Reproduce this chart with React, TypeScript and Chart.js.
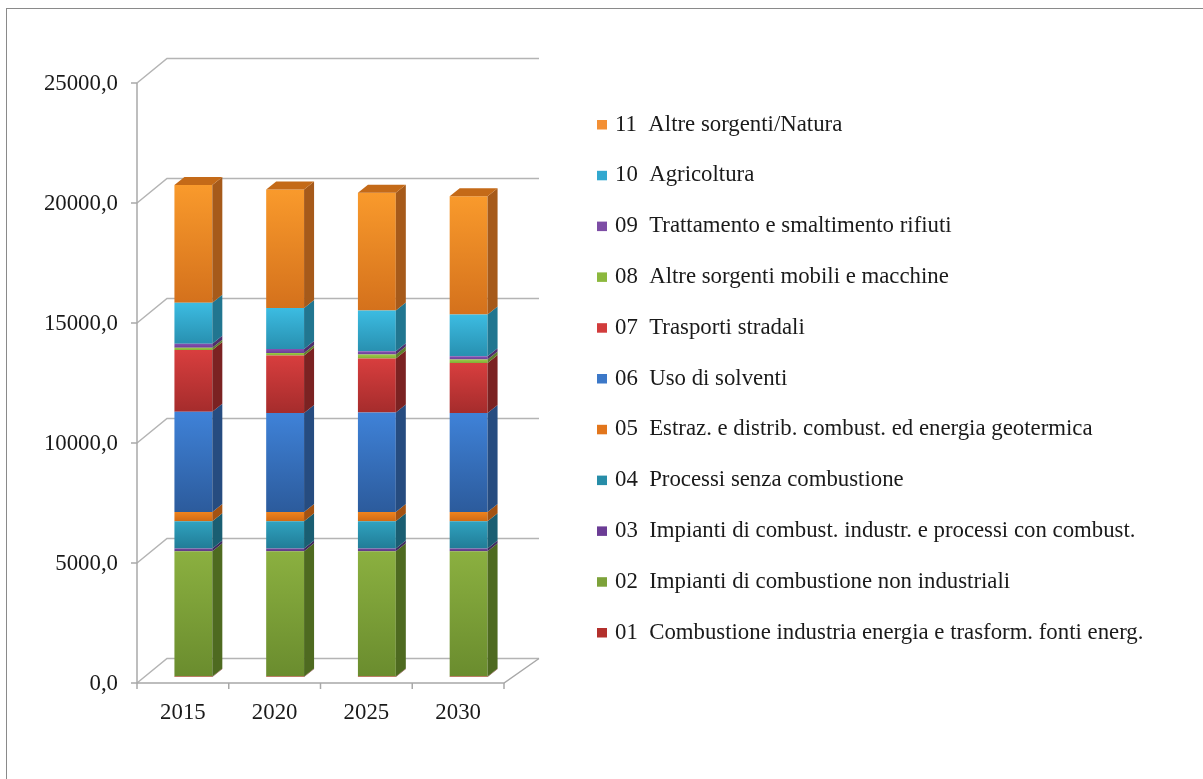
import React, { useEffect, useRef } from "react";
import { Chart, registerables } from "chart.js";

Chart.register(...registerables);

// ---- data ----
const years = ["2015", "2020", "2025", "2030"];
const s01 = [20, 20, 20, 20];
const s02 = [5220, 5220, 5220, 5220];
const s03 = [110, 110, 110, 110];
const s04 = [1140, 1140, 1140, 1140];
const s05 = [390, 390, 390, 390];
const s06 = [4170, 4125, 4140, 4125];
const s07 = [2570, 2390, 2250, 2080];
const s08 = [100, 110, 165, 140];
const s09 = [165, 165, 140, 140];
const s10 = [1710, 1710, 1700, 1740];
const s11 = [4900, 4930, 4900, 4930];
const yTicks = [0, 5000, 10000, 15000, 20000, 25000];
const seriesLabels = [
  "01  Combustione industria energia e trasform. fonti energ.",
  "02  Impianti di combustione non industriali",
  "03  Impianti di combust. industr. e processi con combust.",
  "04  Processi senza combustione",
  "05  Estraz. e distrib. combust. ed energia geotermica",
  "06  Uso di solventi",
  "07  Trasporti stradali",
  "08  Altre sorgenti mobili e macchine",
  "09  Trattamento e smaltimento rifiuti",
  "10  Agricoltura",
  "11  Altre sorgenti/Natura",
];
const seriesData = [s01, s02, s03, s04, s05, s06, s07, s08, s09, s10, s11];

// ---- styles ----
const frontTop = ["#C8383A", "#8BB040", "#74489E", "#2FA2C0", "#F0841E", "#3F82D8", "#D83E3E", "#9CCB48", "#8652B2", "#3CBCE2", "#F99A2C"];
const frontBottom = ["#A02A2A", "#6A8C2E", "#5A3882", "#217C96", "#D06A14", "#2C5B9C", "#A52C2C", "#82AE36", "#6C3E96", "#2890B0", "#D4711C"];
const sideColors = ["#7A1E1E", "#4E6A20", "#3F2A5E", "#1A5E72", "#A35212", "#264C80", "#7B2222", "#5E7E2A", "#4E2E6C", "#217690", "#A65A1A"];
const topColor = "#C46A18";
const legendColors = ["#B3302C", "#7DA23A", "#6B3C95", "#278DA8", "#E2761C", "#3C78C8", "#D23C3C", "#8CB83E", "#7D4DA5", "#32A8CF", "#F39035"];
const FONT = "'Liberation Serif', 'Times New Roman', serif";
const FONT_SIZE = 22.8;

// 3D offsets relative to the bar plane
const FX = -10.5, FY = 6; // front plane
const BX = 19.5, BY = -18.5; // back wall
const DX = 10, DY = -8; // bar depth

const plugin3d = {
  id: "pseudo3d",
  beforeDatasetsDraw(chart: any) {
    const { ctx, chartArea } = chart;
    const { left, right } = chartArea;
    const ys = chart.scales.y;
    const xs = chart.scales.x;
    ctx.save();
    ctx.strokeStyle = "#b4b4b4";
    ctx.lineWidth = 1.5;
    yTicks.forEach((v) => {
      const py = ys.getPixelForValue(v);
      ctx.beginPath();
      ctx.moveTo(left + FX, py + FY);
      ctx.lineTo(left + BX, py + BY);
      ctx.lineTo(right + BX + 5, py + BY);
      ctx.stroke();
    });
    const y0 = ys.getPixelForValue(0);
    const yTop = ys.getPixelForValue(yTicks[yTicks.length - 1]);
    ctx.strokeStyle = "#a8a8a8";
    ctx.beginPath();
    ctx.moveTo(left + FX, y0 + FY);
    ctx.lineTo(right + FX, y0 + FY);
    ctx.lineTo(right + BX + 5, y0 + BY);
    ctx.stroke();
    ctx.beginPath();
    ctx.moveTo(left + FX, yTop + FY);
    ctx.lineTo(left + FX, y0 + FY);
    ctx.stroke();
    yTicks.forEach((v) => {
      const py = ys.getPixelForValue(v) + FY;
      ctx.beginPath();
      ctx.moveTo(left + FX - 6, py);
      ctx.lineTo(left + FX, py);
      ctx.stroke();
    });
    const catW = (right - left) / years.length;
    for (let i = 0; i <= years.length; i++) {
      const px = (i < years.length ? xs.getPixelForValue(i) - catW / 2 : xs.getPixelForValue(i - 1) + catW / 2) + FX;
      ctx.beginPath();
      ctx.moveTo(px, y0 + FY);
      ctx.lineTo(px, y0 + FY + 6);
      ctx.stroke();
    }
    ctx.restore();
  },
  afterDatasetsDraw(chart: any) {
    const { ctx } = chart;
    const n = chart.data.datasets.length;
    const topIdx: number[] = years.map(() => -1);
    ctx.save();
    for (let d = 0; d < n; d++) {
      const meta = chart.getDatasetMeta(d);
      meta.data.forEach((el: any, i: number) => {
        const { x, y, base, width } = el.getProps(["x", "y", "base", "width"], true);
        const r = x + width / 2;
        const top = Math.min(y, base), bot = Math.max(y, base);
        if (bot - top < 0.05) return;
        ctx.fillStyle = sideColors[d];
        ctx.beginPath();
        ctx.moveTo(r, top);
        ctx.lineTo(r + DX, top + DY);
        ctx.lineTo(r + DX, bot + DY);
        ctx.lineTo(r, bot);
        ctx.closePath();
        ctx.fill();
        topIdx[i] = d;
      });
    }
    topIdx.forEach((d, i) => {
      if (d < 0) return;
      const el: any = chart.getDatasetMeta(d).data[i];
      const { x, y, width } = el.getProps(["x", "y", "width"], true);
      const l = x - width / 2, r = x + width / 2;
      ctx.fillStyle = topColor;
      ctx.beginPath();
      ctx.moveTo(l, y);
      ctx.lineTo(l + DX, y + DY);
      ctx.lineTo(r + DX, y + DY);
      ctx.lineTo(r, y);
      ctx.closePath();
      ctx.fill();
    });
    ctx.restore();
  },
  afterDraw(chart: any) {
    const { ctx } = chart;
    const n = chart.data.datasets.length;
    ctx.save();
    ctx.font = `${FONT_SIZE}px ${FONT}`;
    ctx.textAlign = "left";
    ctx.textBaseline = "alphabetic";
    for (let k = 0; k < n; k++) {
      const d = n - 1 - k;
      const rowY = 112 + k * 50.8; // canvas coords
      ctx.fillStyle = legendColors[d];
      ctx.fillRect(589, rowY, 10, 9.5);
      ctx.fillStyle = "#1a1a1a";
      ctx.fillText(chart.data.datasets[d].label, 607, rowY + 10.5);
    }
    ctx.restore();
  },
};

export default function App() {
  const ref = useRef<HTMLCanvasElement>(null);
  useEffect(() => {
    const canvas = ref.current!;
    const datasets = seriesData.map((data, d) => ({
      label: seriesLabels[d],
      data,
      borderWidth: 0,
      barPercentage: 0.413,
      categoryPercentage: 1,
      backgroundColor: (c: any) => {
        const chart = c.chart;
        const ys = chart.scales && chart.scales.y;
        if (!ys || c.dataIndex === undefined) return frontTop[d];
        let cum = 0;
        for (let k = 0; k <= d; k++) cum += seriesData[k][c.dataIndex];
        const top = ys.getPixelForValue(cum);
        const bot = ys.getPixelForValue(cum - seriesData[d][c.dataIndex]);
        if (!isFinite(top) || !isFinite(bot) || bot - top < 0.5) return frontTop[d];
        const g = chart.ctx.createLinearGradient(0, top, 0, bot);
        g.addColorStop(0, frontTop[d]);
        g.addColorStop(1, frontBottom[d]);
        return g;
      },
    }));
    const chart = new Chart(canvas, {
      type: "bar",
      data: { labels: years, datasets },
      options: {
        animation: false,
        responsive: false,
        maintainAspectRatio: false,
        layout: { padding: { top: 69, right: 680.5, bottom: 0, left: 0 } },
        plugins: { legend: { display: false }, tooltip: { enabled: false } },
        scales: {
          x: {
            stacked: true,
            grid: { display: false, drawTicks: false },
            border: { display: false },
            ticks: {
              font: { family: FONT, size: FONT_SIZE },
              color: "#1a1a1a",
              padding: 22,
              labelOffset: FX,
              maxRotation: 0,
            },
            afterFit: (s: any) => {
              s.height = 94;
            },
          },
          y: {
            stacked: true,
            min: 0,
            max: 25000,
            grid: { display: false, drawTicks: false },
            border: { display: false },
            ticks: {
              stepSize: 5000,
              font: { family: FONT, size: FONT_SIZE },
              color: "#1a1a1a",
              padding: 29.5,
              labelOffset: FY + 1,
              callback: (v: any) => Number(v).toFixed(1).replace(".", ","),
            },
            afterFit: (s: any) => {
              s.width = 139.5;
            },
          },
        },
      },
      plugins: [plugin3d],
    } as any);
    return () => chart.destroy();
  }, []);
  return (
    <div
      style={{
        position: "fixed",
        left: 0,
        top: 0,
        width: 1203,
        height: 779,
        overflow: "hidden",
        background: "#fff",
      }}
    >
      <div
        style={{
          position: "absolute",
          left: 6,
          top: 8,
          width: 1300,
          height: 900,
          border: "1.5px solid #8a8a8a",
        }}
      />
      <canvas ref={ref} width={1187} height={763} style={{ position: "absolute", left: 8, top: 8 }} />
    </div>
  );
}
